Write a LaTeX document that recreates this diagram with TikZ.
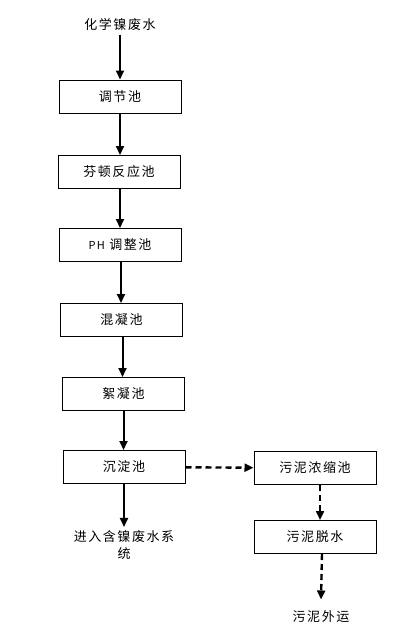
\documentclass[tikz,border=0pt]{standalone}
\usepackage{fontspec}
\setmainfont[LetterSpace=12]{Noto Sans CJK SC}
\usetikzlibrary{arrows.meta, shapes}
\tikzstyle{tank} = [rectangle, minimum width=122pt, minimum height=33pt, text centered, draw=black, line width=1pt, font=\fontsize{13}{15}\selectfont]
\tikzstyle{label} = [text centered, font=\fontsize{13}{17}\selectfont]
\tikzstyle{arrow} = [line width=2pt, -{Triangle[width=8pt,length=9pt]}]
\tikzstyle{dasharrow} = [line width=2.4pt, dash pattern=on 6pt off 4pt, -{Triangle[width=8pt,length=9pt]}]

\begin{document}
\begin{tikzpicture}[x=1pt, y=-1pt]
\useasboundingbox (0,0) rectangle (407,638);

\node at (120, 25) (inflow) [label] {化学镍废水};
\node at (120, 96.5) (equal) [tank] {调节池};
\node at (119, 172) (fenton) [tank] {芬顿反应池};
\node at (120, 245) (ph) [tank] {{\fontsize{11}{13}\selectfont PH} 调整池};
\node at (121.5, 320) (coag) [tank] {混凝池};
\node at (123.5, 394) (floc) [tank] {絮凝池};
\node at (124, 467) (settle) [tank] {沉淀池};
\node at (315, 468) (thicken) [tank] {污泥浓缩池};
\node at (315, 537) (dewater) [tank] {污泥脱水};
\node at (124, 545) (outflow) [label, align=center] {进入含镍废水系\\统};
\node at (321, 617) (sludge) [label] {污泥外运};

\draw [arrow] (inflow) -- (inflow |- equal.north);
\draw [arrow] (equal.south) -- (equal.south |- fenton.north);
\draw [arrow] ([xshift=1]fenton.south) -- ([xshift=1]fenton.south |- ph.north);
\draw [arrow] ([xshift=1]ph.south) -- ([xshift=1]ph.south |- coag.north);
\draw [arrow] ([xshift=1]coag.south) -- ([xshift=1]coag.south |- floc.north);
\draw [arrow] (floc.south) -- (floc.south |- settle.north);
\draw [arrow] (settle.south) -- (settle.south |- outflow.north);
\draw [dasharrow] (settle) -- (thicken);
\draw [dasharrow] ([xshift=5]thicken.south) -- ([xshift=5]dewater.north);
\draw [dasharrow] ([xshift=7]dewater.south) -- ([yshift=8]sludge.north);

\end{tikzpicture}
\end{document}
